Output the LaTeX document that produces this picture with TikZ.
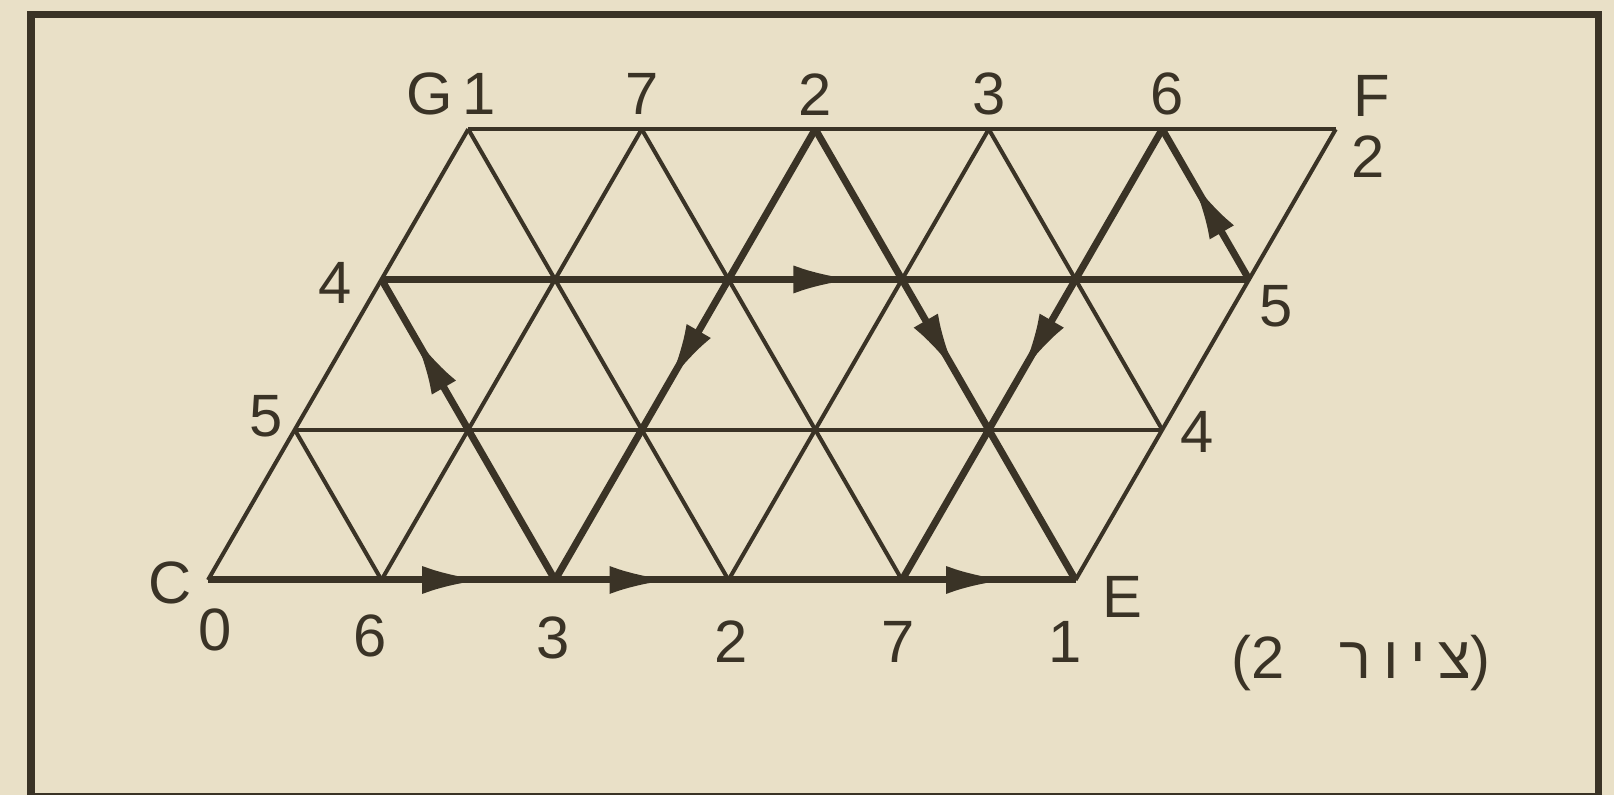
\documentclass[tikz,border=0pt]{standalone}
\usepackage{fontspec}
\setmainfont{Liberation Sans}
\newfontfamily\hebfont[Script=Hebrew,LetterSpace=20]{Liberation Sans}
\TeXXeTstate=1
\usepackage{tikz}
\usetikzlibrary{arrows.meta,calc,decorations.markings}
\definecolor{paper}{RGB}{233,224,199}
\definecolor{ink}{RGB}{58,51,38}

\begin{document}
\begin{tikzpicture}[>={Latex[length=6mm,width=2.8mm]},
  grid/.style={ink,line width=1.15pt},
  route/.style={ink,line width=2pt},
  lab/.style={ink,font=\fontsize{17}{20}\selectfont,inner sep=0pt},
  mid/.style={postaction={decorate},decoration={markings,mark=at position #1 with {\arrow{>}}}}]
\fill[paper] (0,0) rectangle (16.14,7.95);
\useasboundingbox (0,0) rectangle (16.14,7.95);
\draw[ink,line width=2pt] (0.31,-0.02) rectangle (15.98,7.80);
\foreach \j in {0,...,3}
  \foreach \i in {0,...,5}
    \coordinate (v\i\j) at (2.08+1.735*\i+0.8675*\j, 2.15+1.5026*\j);
\foreach \j in {1,3} \draw[grid] (v0\j)--(v5\j);
\foreach \i in {0,1,3,5} \draw[grid] (v\i0)--(v\i3);
\draw[grid] (v01)--(v10); \draw[grid] (v03)--(v30);
\draw[grid] (v13)--(v40); \draw[grid] (v33)--(v51);
\draw[route] (v00)--(v10);
\draw[route,mid=.58] (v10)--(v20);
\draw[route,mid=.66] (v20)--(v30);
\draw[route] (v30)--(v40);
\draw[route,mid=.6] (v40)--(v50);
\draw[route,mid=.815] (v20)--(v02);
\draw[route,mid=.544] (v02)--(v52);
\draw[route,mid=.66] (v52)--(v43);
\draw[route,mid=.54] (v43)--(v40);
\draw[route,mid=.563] (v23)--(v20);
\draw[route,mid=.54] (v23)--(v50);
\node[lab] (lC) at ($(v00)+(-.38,-.03)$) {C};
\node[lab] (l00) at ($(v00)+(.07,-.50)$) {0};
\node[lab] (l10) at ($(v10)+(-.11,-.56)$) {6};
\node[lab] (l20) at ($(v20)+(-.02,-.58)$) {3};
\node[lab] (l30) at ($(v30)+(.03,-.62)$) {2};
\node[lab] (l40) at ($(v40)+(-.04,-.62)$) {7};
\node[lab] (l50) at ($(v50)+(-.1,-.62)$) {1};
\node[lab] (lE) at ($(v50)+(.47,-.17)$) {E};
\node[lab] (l01) at ($(v01)+(-.29,.13)$) {5};
\node[lab] (l51) at ($(v51)+(.35,-.02)$) {4};
\node[lab] (l02) at ($(v02)+(-.46,-.03)$) {4};
\node[lab] (l52) at ($(v52)+(.27,-.27)$) {5};
\node[lab] (l03) at ($(v03)+(-.17,.35)$) {G\,1};
\node[lab] (l13) at ($(v13)+(0,.35)$) {7};
\node[lab] (l23) at ($(v23)+(0,.35)$) {2};
\node[lab] (l33) at ($(v33)+(0,.35)$) {3};
\node[lab] (l43) at ($(v43)+(.05,.35)$) {6};
\node[lab] (lF) at ($(v53)+(.36,.33)$) {F};
\node[lab] (l53) at ($(v53)+(.32,-.27)$) {2};
\node[lab] (cap) at (13.61,1.32) {(2\hspace{.55cm}{\hebfont\beginR ציור\endR})};
\end{tikzpicture}
\end{document}
